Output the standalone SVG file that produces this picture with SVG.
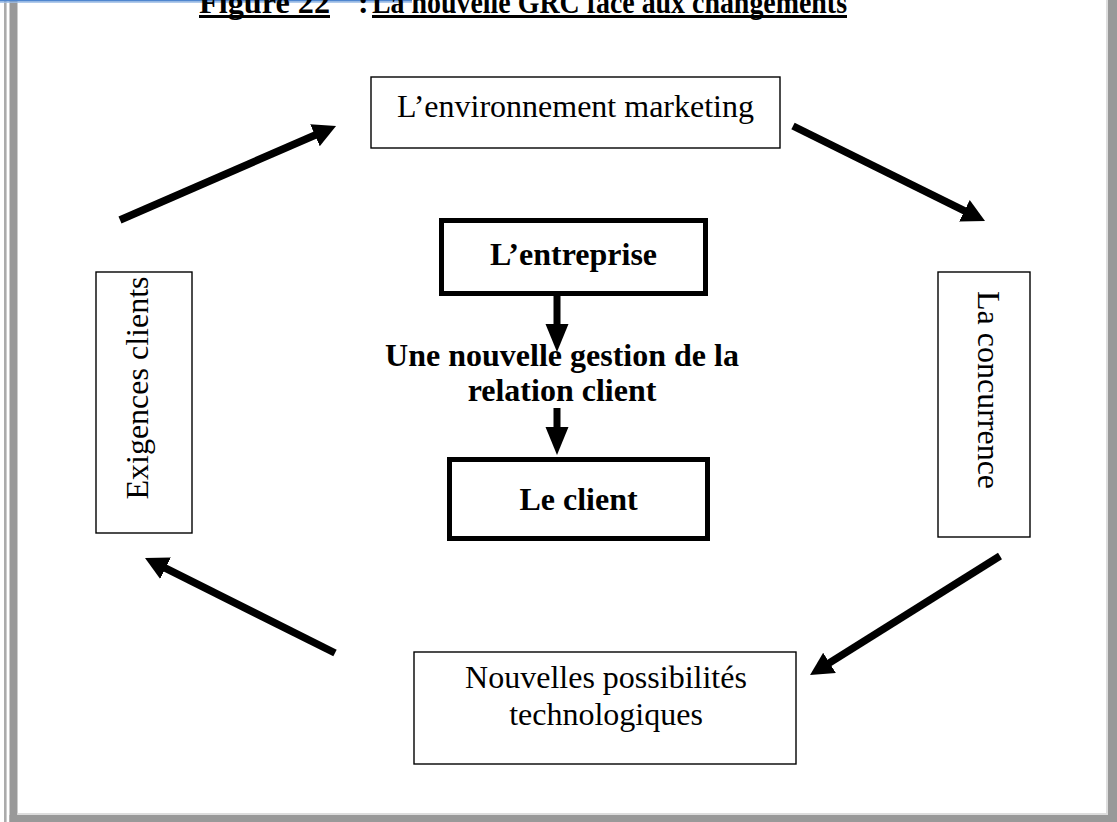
<svg xmlns="http://www.w3.org/2000/svg" width="1117" height="822" viewBox="0 0 1117 822">
  <style>
    .t { font-family: "Liberation Serif", "Times New Roman", serif; font-size: 32px; fill: #000; }
    .b { font-weight: bold; }
    .box { fill: #fff; stroke: #000; stroke-width: 1.4; }
    .boxb { fill: #fff; stroke: #000; stroke-width: 5; }
    .arr { stroke: #000; stroke-width: 7.5; fill: none; marker-end: url(#headd); }
    .arrv { stroke: #000; stroke-width: 7; fill: none; marker-end: url(#headv); }
  </style>
  <defs>
    <!-- arrowhead for the slanted cycle arrows -->
    <marker id="headd" markerUnits="userSpaceOnUse" markerWidth="26" markerHeight="26" refX="3" refY="12" orient="auto">
      <path d="M0,0 L23,12 L0,24 z" fill="#000"/>
    </marker>
    <!-- arrowhead for the vertical arrows in the centre -->
    <marker id="headv" markerUnits="userSpaceOnUse" markerWidth="30" markerHeight="26" refX="8" refY="11.5" orient="auto">
      <path d="M0,0 L28,11.5 L0,23 z" fill="#000"/>
    </marker>
  </defs>

  <rect width="1117" height="822" fill="#fff"/>

  <!-- page frame -->
  <g id="frame">
    <rect x="4" y="0" width="2.6" height="822" fill="#ababab"/>
    <rect x="9.5" y="0" width="8" height="822" fill="#999"/>
    <rect x="1106" y="0" width="2" height="815" fill="#ddd"/>
    <rect x="1108" y="0" width="9" height="822" fill="#999"/>
    <rect x="17.5" y="813" width="1090" height="2" fill="#ddd"/>
    <rect x="9.5" y="815" width="1107.5" height="7" fill="#999"/>
    <rect x="0" y="0" width="412" height="1.6" fill="#4f86cf"/>
    <rect x="0" y="1.6" width="412" height="1.2" fill="#9dbde6"/>
  </g>

  <!-- caption -->
  <g id="title">
    <text class="t b" x="199" y="13" textLength="131" lengthAdjust="spacingAndGlyphs">Figure 22</text>
    <text class="t b" x="358" y="13">:</text>
    <text class="t b" x="372" y="13" textLength="475" lengthAdjust="spacingAndGlyphs">La nouvelle GRC face aux changements</text>
    <rect x="199" y="15" width="131" height="3" fill="#000"/>
    <rect x="372" y="15" width="475" height="3" fill="#000"/>
  </g>

  <!-- connectors -->
  <g id="connectors">
    <line class="arr" x1="120" y1="220" x2="317.7" y2="134"/>
    <line class="arr" x1="793" y1="126" x2="967.1" y2="212.1"/>
    <line class="arr" x1="1000" y1="556" x2="827" y2="664.4"/>
    <line class="arr" x1="335" y1="653" x2="162.9" y2="566.9"/>
    <line class="arrv" x1="557" y1="296" x2="557" y2="332"/>
    <line class="arrv" x1="557" y1="408" x2="557" y2="435"/>
  </g>

  <g id="environnement">
    <rect class="box" x="371" y="77" width="409" height="71"/>
    <text class="t" x="575.5" y="117" text-anchor="middle">L’environnement marketing</text>
  </g>

  <g id="concurrence">
    <rect class="box" x="938" y="272" width="92" height="265"/>
    <text class="t" transform="translate(978,390) rotate(90)" text-anchor="middle">La concurrence</text>
  </g>

  <g id="technologies">
    <rect class="box" x="414" y="652" width="382" height="112"/>
    <text class="t" x="606" y="688" text-anchor="middle">Nouvelles possibilités</text>
    <text class="t" x="606" y="725" text-anchor="middle">technologiques</text>
  </g>

  <g id="exigences">
    <rect class="box" x="96" y="272" width="96" height="261"/>
    <text class="t" transform="translate(148,388) rotate(-90)" text-anchor="middle">Exigences clients</text>
  </g>

  <g id="entreprise">
    <rect class="boxb" x="441.5" y="220.5" width="264" height="73"/>
    <text class="t b" x="573.5" y="265" text-anchor="middle">L’entreprise</text>
  </g>

  <g id="grc">
    <text class="t b" x="562" y="366" text-anchor="middle">Une nouvelle gestion de la</text>
    <text class="t b" x="562" y="401" text-anchor="middle">relation client</text>
  </g>

  <g id="client">
    <rect class="boxb" x="449.5" y="459.5" width="258" height="79"/>
    <text class="t b" x="578.5" y="510" text-anchor="middle">Le client</text>
  </g>
</svg>
